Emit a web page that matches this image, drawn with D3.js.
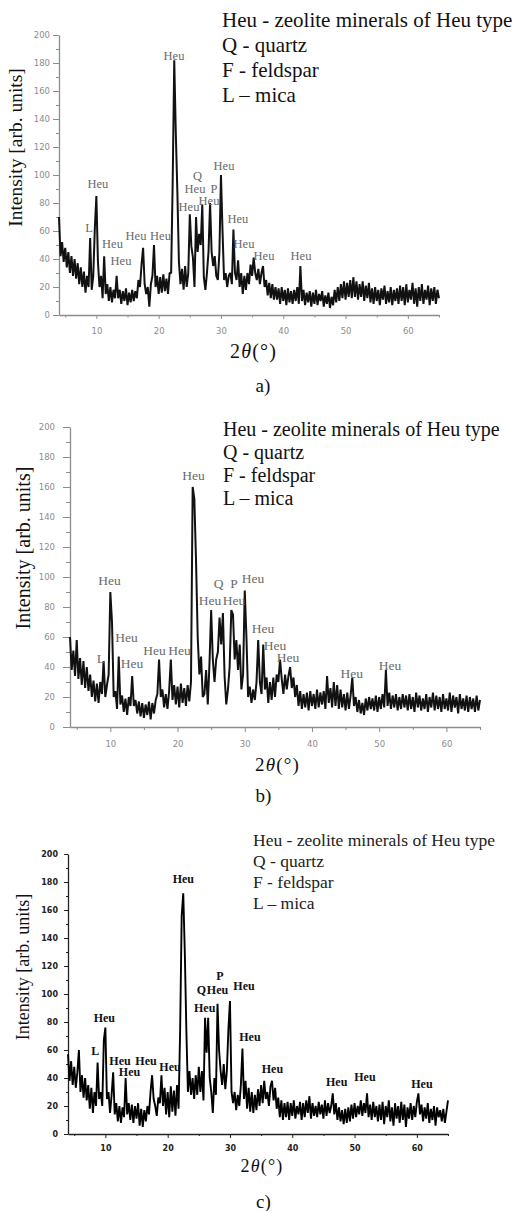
<!DOCTYPE html>
<html>
<head>
<meta charset="utf-8">
<title>XRD patterns a-c</title>
<script src="https://cdn.jsdelivr.net/npm/d3@7"></script>
<style>
  body { margin: 0; padding: 0; background: #fff; }
  svg { display: block; font-family: "Liberation Serif", "Times New Roman", serif; }
</style>
</head>
<body>
<div id="chart"></div>
<script>
// 2theta grid: 4..65 deg, step 0.25
const thetaStart = 4;
const thetaStep = 0.25;

// intensities, one row = 5 degrees
const intensityA = [
  70, 42, 52, 38, 48, 34, 45, 30, 42, 28, 40, 26, 37, 22, 34, 20, 31, 16, 28, 20,
  55, 18, 28, 62, 85, 38, 20, 28, 12, 42, 15, 22, 10, 20, 9, 18, 12, 28, 12, 18,
  8, 17, 10, 19, 7, 16, 9, 18, 10, 17, 12, 25, 20, 36, 48, 22, 15, 20, 6, 22,
  28, 50, 20, 28, 15, 27, 16, 29, 17, 26, 15, 30, 30, 95, 182, 130, 88, 38, 22, 33,
  18, 35, 20, 30, 72, 49, 41, 20, 70, 45, 58, 50, 79, 27, 18, 30, 45, 80, 45, 35,
  42, 28, 25, 45, 100, 60, 25, 30, 20, 28, 30, 22, 61, 30, 25, 39, 20, 30, 15, 28,
  18, 30, 22, 36, 28, 41, 30, 25, 33, 22, 30, 35, 20, 25, 14, 23, 12, 22, 11, 20,
  11, 19, 8, 20, 10, 18, 7, 19, 9, 17, 8, 18, 10, 20, 8, 35, 10, 18, 7, 16,
  9, 17, 6, 16, 8, 18, 7, 15, 10, 17, 6, 14, 8, 16, 5, 13, 7, 18, 9, 20,
  10, 22, 12, 24, 11, 23, 13, 25, 12, 27, 13, 24, 11, 22, 13, 24, 10, 21, 12, 23,
  9, 19, 8, 20, 10, 18, 7, 19, 11, 21, 8, 17, 9, 20, 7, 18, 10, 19, 8, 21,
  10, 20, 7, 22, 9, 18, 11, 23, 8, 19, 6, 20, 10, 22, 8, 18, 11, 21, 7, 19,
  10, 20, 8, 18, 12
];

const intensityB = [
  60, 38, 51, 34, 58, 32, 46, 28, 44, 26, 40, 24, 35, 20, 31, 17, 29, 16, 30, 22,
  44, 20, 28, 35, 90, 70, 20, 24, 12, 47, 15, 21, 10, 19, 8, 20, 14, 34, 14, 18,
  9, 17, 7, 16, 6, 15, 8, 17, 5, 16, 9, 18, 22, 45, 20, 25, 13, 22, 12, 24,
  45, 18, 28, 15, 27, 13, 29, 16, 26, 14, 28, 17, 30, 160, 152, 111, 60, 35, 47, 20,
  22, 38, 15, 42, 78, 45, 30, 45, 50, 73, 55, 76, 34, 15, 25, 40, 78, 75, 45, 58,
  38, 55, 25, 35, 91, 60, 20, 27, 16, 25, 18, 30, 58, 30, 22, 55, 25, 33, 16, 30,
  18, 33, 20, 35, 30, 45, 32, 22, 35, 25, 34, 40, 26, 33, 20, 28, 14, 24, 12, 22,
  13, 23, 11, 24, 14, 22, 12, 25, 13, 23, 15, 24, 12, 34, 16, 26, 13, 30, 14, 28,
  12, 25, 13, 22, 11, 23, 12, 21, 33, 14, 20, 10, 18, 9, 16, 8, 19, 11, 20, 12,
  19, 11, 21, 10, 20, 12, 22, 13, 38, 14, 23, 12, 21, 13, 22, 11, 20, 12, 22, 13,
  21, 11, 22, 12, 20, 10, 23, 13, 21, 11, 19, 12, 22, 10, 20, 13, 23, 11, 21, 12,
  20, 10, 22, 12, 19, 11, 23, 10, 21, 13, 20, 9, 22, 12, 19, 11, 21, 10, 20, 12,
  19, 10, 21, 11, 18
];

const intensityC = [
  57, 38, 52, 35, 48, 33, 44, 60, 30, 42, 26, 40, 24, 35, 18, 33, 15, 30, 20, 51,
  25, 30, 20, 67, 76, 25, 30, 15, 28, 44, 14, 22, 9, 20, 8, 19, 12, 40, 14, 22,
  10, 21, 8, 20, 11, 22, 6, 18, 5, 17, 9, 20, 14, 30, 42, 25, 20, 13, 26, 22,
  42, 20, 33, 14, 30, 12, 34, 16, 31, 13, 35, 18, 74, 156, 172, 130, 74, 30, 45, 28,
  40, 25, 42, 28, 48, 30, 45, 24, 83, 58, 83, 40, 30, 15, 40, 28, 93, 60, 45, 35,
  50, 32, 45, 75, 95, 30, 22, 30, 17, 28, 20, 35, 61, 25, 38, 18, 33, 16, 30, 15,
  28, 17, 32, 20, 35, 22, 38, 25, 30, 20, 34, 38, 24, 33, 18, 26, 12, 24, 10, 22,
  12, 23, 10, 22, 13, 24, 11, 20, 14, 23, 10, 22, 12, 24, 15, 27, 11, 22, 13, 20,
  12, 23, 14, 21, 11, 24, 13, 22, 15, 20, 29, 14, 22, 10, 19, 9, 17, 7, 18, 8,
  19, 9, 21, 11, 22, 12, 20, 14, 24, 13, 22, 15, 29, 12, 21, 10, 23, 12, 20, 9,
  21, 10, 23, 7, 20, 12, 24, 9, 19, 6, 22, 11, 20, 8, 23, 10, 21, 5, 19, 11,
  22, 10, 20, 12, 23, 29, 14, 21, 9, 19, 11, 22, 8, 18, 10, 20, 6, 19, 12, 17,
  9, 18, 8, 16, 24
];

// peak annotations: [2theta, intensity, text]
const peaksA = [
  [22.46, 182.1, "Heu"], [10.23, 90.7, "Heu"], [8.82, 59.5, "L"], [12.59, 47.9, "Heu"],
  [13.95, 35.7, "Heu"], [16.36, 53.6, "Heu"], [20.29, 53.6, "Heu"], [24.87, 74.3, "Heu"],
  [25.83, 87.1, "Heu"], [26.23, 96.4, "Q"], [28.88, 87.1, "P"], [28.08, 78.6, "Heu"],
  [30.49, 103.6, "Heu"], [33.70, 47.9, "Heu"], [32.73, 65.7, "Heu"], [36.91, 39.3, "Heu"],
  [42.85, 39.3, "Heu"]
];

const peaksB = [
  [22.38, 164.7, "Heu"], [9.88, 94.7, "Heu"], [8.61, 42.7, "L"], [12.41, 56.7, "Heu"],
  [13.23, 39.3, "Heu"], [16.57, 48, "Heu"], [20.29, 48, "Heu"], [24.83, 81.3, "Heu"],
  [28.40, 81.3, "Heu"], [26.10, 92.7, "Q"], [28.40, 92.7, "P"], [31.23, 96, "Heu"],
  [32.72, 62.7, "Heu"], [34.51, 51.3, "Heu"], [36.44, 43.5, "Heu"], [45.92, 32.7, "Heu"],
  [51.62, 38, "Heu"]
];

const peaksC = [
  [22.51, 179.3, "Heu"], [28.40, 110, "P"], [25.43, 100, "Q"], [28.0, 100, "Heu"],
  [32.25, 102.9, "Heu"], [25.94, 87.4, "Heu"], [9.83, 80.2, "Heu"], [8.38, 56.4, "L"],
  [12.35, 49.3, "Heu"], [16.52, 49.3, "Heu"], [13.87, 41.1, "Heu"], [20.37, 45, "Heu"],
  [33.21, 66.4, "Heu"], [36.82, 43.6, "Heu"], [47.13, 34.3, "Heu"], [51.67, 37.9, "Heu"],
  [60.82, 32.9, "Heu"]
];

const legendLines = ["Heu - zeolite minerals of Heu type", "Q - quartz", "F - feldspar", "L \u2013 mica"];
const yTicks = [0, 20, 40, 60, 80, 100, 120, 140, 160, 180, 200];
const yMinorTicks = [10, 30, 50, 70, 90, 110, 130, 150, 170, 190];
const xTicks = [10, 20, 30, 40, 50, 60];
const xMinorTicks = [5, 15, 25, 35, 45, 55, 65];
const xDomain = [4, 65];
const yDomain = [0, 200];

const panels = [
  {
    data: intensityA, peaks: peaksA, tag: "a)",
    xRange: [59, 439], yRange: [315, 35],
    legend: { x: 222, y: 26.5, dy: 25, size: 21, color: "#111" },
    yLabel: { x: 22, y: 147.5, size: 19.5 },
    xLabel: { x: 253.5, y: 358, size: 20 },
    tagPos: { x: 263, y: 392, size: 19 },
    axisColor: "#8c8c8c", tickColor: "#8c8c8c", tickSize: 8.5, tickWeight: "normal",
    major: 6, minor: 3, yPad: 3, xMajor: 4, xMinor: 2.5, xPad: 9,
    peakSize: 12.5, peakColor: "#6a6a6a", peakWeight: "normal", lineColor: "#111", lineWidth: 2
  },
  {
    data: intensityB, peaks: peaksB, tag: "b)",
    xRange: [70, 480], yRange: [727, 427],
    legend: { x: 223, y: 436, dy: 23, size: 20, color: "#111" },
    yLabel: { x: 30, y: 548, size: 20 },
    xLabel: { x: 277.5, y: 771, size: 19 },
    tagPos: { x: 263.5, y: 802, size: 19 },
    axisColor: "#8c8c8c", tickColor: "#8c8c8c", tickSize: 8.5, tickWeight: "normal",
    major: 7, minor: 4, yPad: 8, xMajor: 5, xMinor: 3, xPad: 9,
    peakSize: 13.5, peakColor: "#6a6a6a", peakWeight: "normal", lineColor: "#111", lineWidth: 2
  },
  {
    data: intensityC, peaks: peaksC, tag: "c)",
    xRange: [68, 448], yRange: [1134, 854],
    legend: { x: 253, y: 846, dy: 21, size: 17.5, color: "#222" },
    yLabel: { x: 29, y: 967, size: 18 },
    xLabel: { x: 262, y: 1172, size: 18 },
    tagPos: { x: 263.5, y: 1208, size: 19 },
    axisColor: "#222", tickColor: "#222", tickSize: 8, tickWeight: "bold",
    major: 4, minor: 2, yPad: 6, xMajor: 4, xMinor: 2, xPad: 7,
    peakSize: 12, peakColor: "#111", peakWeight: "bold", lineColor: "#000", lineWidth: 1.9
  }
];

const svg = d3.select("#chart").append("svg")
  .attr("width", 515)
  .attr("height", 1211);

panels.forEach(drawPanel);

function styleAxis(g, p) {
  g.select(".domain").attr("stroke", p.axisColor).attr("stroke-width", 1.3);
  g.selectAll(".tick line").attr("stroke", p.axisColor);
  g.selectAll(".tick text")
    .attr("fill", p.tickColor)
    .attr("font-size", p.tickSize)
    .attr("font-weight", p.tickWeight)
    .attr("font-family", "'DejaVu Sans', sans-serif");
}

function drawPanel(p) {
  const x = d3.scaleLinear().domain(xDomain).range(p.xRange);
  const y = d3.scaleLinear().domain(yDomain).range(p.yRange);
  const g = svg.append("g");

  // minor ticks first, then the labelled axes on top
  g.append("g")
    .attr("transform", `translate(${p.xRange[0]},0)`)
    .call(d3.axisLeft(y).tickValues(yMinorTicks).tickSize(p.minor).tickFormat(""))
    .call(a => a.select(".domain").remove())
    .call(a => a.selectAll(".tick line").attr("stroke", p.axisColor));

  g.append("g")
    .attr("transform", `translate(0,${p.yRange[0]})`)
    .call(d3.axisBottom(x).tickValues(xMinorTicks).tickSize(p.xMinor).tickFormat(""))
    .call(a => a.select(".domain").remove())
    .call(a => a.selectAll(".tick line").attr("stroke", p.axisColor));

  g.append("g")
    .attr("transform", `translate(${p.xRange[0]},0)`)
    .call(d3.axisLeft(y).tickValues(yTicks).tickSize(p.major).tickSizeOuter(0).tickPadding(p.yPad))
    .call(a => styleAxis(a, p));

  g.append("g")
    .attr("transform", `translate(0,${p.yRange[0]})`)
    .call(d3.axisBottom(x).tickValues(xTicks).tickSize(p.xMajor).tickSizeOuter(0).tickPadding(p.xPad))
    .call(a => styleAxis(a, p));

  const line = d3.line()
    .x((d, i) => x(thetaStart + i * thetaStep))
    .y(d => y(d));

  g.append("path")
    .datum(p.data)
    .attr("fill", "none")
    .attr("stroke", p.lineColor)
    .attr("stroke-width", p.lineWidth)
    .attr("stroke-linejoin", "bevel")
    .attr("d", line);

  g.selectAll(".peak")
    .data(p.peaks)
    .enter()
    .append("text")
    .attr("class", "peak")
    .attr("x", d => x(d[0]))
    .attr("y", d => y(d[1]))
    .attr("text-anchor", "middle")
    .attr("font-size", p.peakSize)
    .attr("font-weight", p.peakWeight)
    .attr("fill", p.peakColor)
    .text(d => d[2]);

  g.selectAll(".legend")
    .data(legendLines)
    .enter()
    .append("text")
    .attr("class", "legend")
    .attr("x", p.legend.x)
    .attr("y", (d, i) => p.legend.y + i * p.legend.dy)
    .attr("font-size", p.legend.size)
    .attr("fill", p.legend.color)
    .text(d => d);

  g.append("text")
    .attr("transform", `translate(${p.yLabel.x},${p.yLabel.y}) rotate(-90)`)
    .attr("text-anchor", "middle")
    .attr("font-size", p.yLabel.size)
    .attr("fill", "#111")
    .text("Intensity [arb. units]");

  const xl = g.append("text")
    .attr("x", p.xLabel.x)
    .attr("y", p.xLabel.y)
    .attr("text-anchor", "middle")
    .attr("font-size", p.xLabel.size)
    .attr("letter-spacing", 1.2)
    .attr("fill", "#111");
  xl.append("tspan").text("2");
  xl.append("tspan").attr("font-style", "italic").text("\u03b8");
  xl.append("tspan").text("(\u00b0)");

  g.append("text")
    .attr("x", p.tagPos.x)
    .attr("y", p.tagPos.y)
    .attr("text-anchor", "middle")
    .attr("font-size", p.tagPos.size)
    .attr("fill", "#111")
    .text(p.tag);
}
</script>
</body>
</html>
